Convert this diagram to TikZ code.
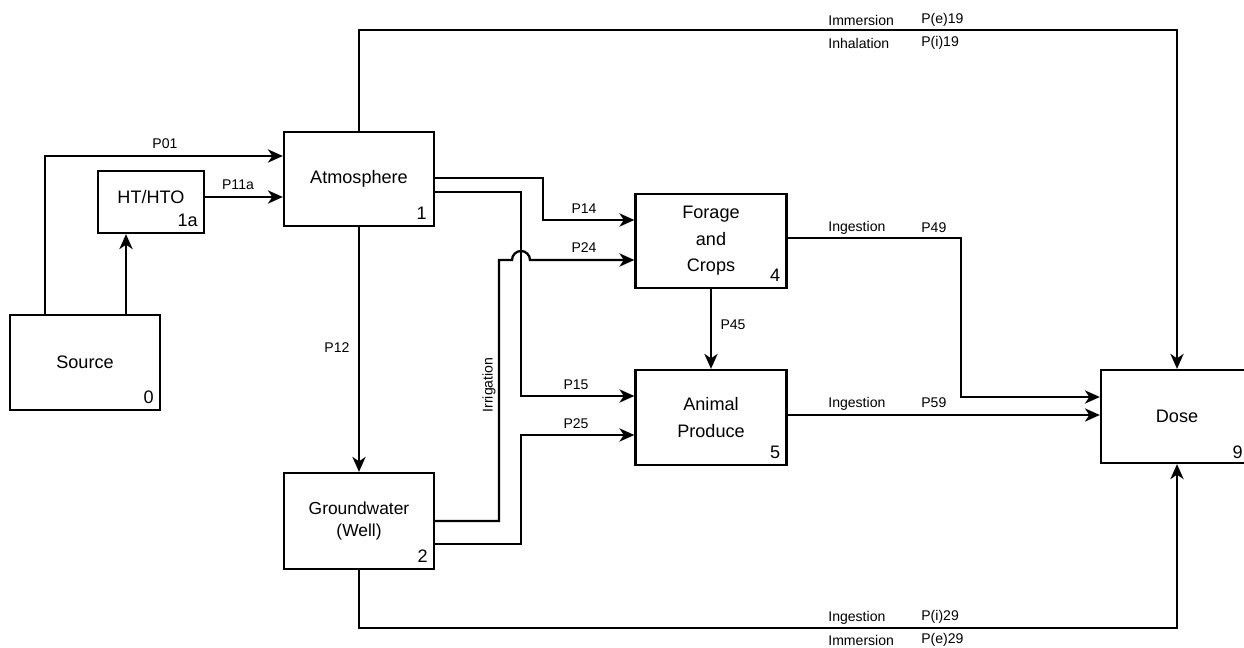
\documentclass[tikz,border=0pt]{standalone}
\usepackage{fontspec}
\setmainfont{Liberation Sans}
\usetikzlibrary{arrows.meta}

\tikzset{
    compartment/.style={draw, line width=1.3pt, align=center, inner sep=0pt,
        font=\fontsize{10.3}{15}\selectfont},
    boxnum/.style={anchor=south east, inner sep=0pt, font=\fontsize{10.3}{12}\selectfont},
    pathlabel/.style={anchor=west, inner sep=0pt, font=\fontsize{8}{9}\selectfont},
    flow/.style={line width=1.3pt, -{Stealth[length=8.5pt, width=7.5pt, inset=2.5pt]}},
}

\begin{document}
\begin{tikzpicture}[x=0.02cm, y=-0.02cm]
    \useasboundingbox (0,0) rectangle (1244,648);

    % compartments
    \node[compartment, minimum width=3cm, minimum height=1.9cm] (src) at (85,362.5) {Source};
    \node[compartment, minimum width=2.12cm, minimum height=1.24cm] (hto) at (151,202) {\raisebox{5.6pt}{HT/HTO}};
    \node[compartment, minimum width=3cm, minimum height=1.88cm] (atm) at (359,179) {Atmosphere};
    \node[compartment, minimum width=3cm, minimum height=1.92cm,
        font=\fontsize{9.9}{13}\selectfont] (gw) at (359,521) {Groundwater\\(Well)};
    \node[compartment, minimum width=3.02cm, minimum height=1.88cm] (fc) at (711,241) {Forage\\and\\Crops};
    \node[compartment, minimum width=3.02cm, minimum height=1.9cm] (ap) at (711,417.5) {Animal\\Produce};
    \node[compartment, minimum width=3.04cm, minimum height=1.86cm] (dose) at (1177,416.5) {Dose};

    % compartment numbers
    \node[boxnum] (src-n) at ([shift={(-7,-7)}]src.south east) {0};
    \node[boxnum] (hto-n) at ([shift={(-7,-7)}]hto.south east) {1a};
    \node[boxnum] (atm-n) at ([shift={(-8,-7)}]atm.south east) {1};
    \node[boxnum] (gw-n) at ([shift={(-7,-7)}]gw.south east) {2};
    \node[boxnum] (fc-n) at ([shift={(-7,-7)}]fc.south east) {4};
    \node[boxnum] (ap-n) at ([shift={(-7,-7)}]ap.south east) {5};
    \node[boxnum] (dose-n) at ([shift={(-11,-5)}]dose.south east) {9};

    % transfers
    \draw[flow] (src.north -| 45,0) |- (atm.west |- 0,156);
    \draw[flow] (src.north -| 126,0) -- (hto.south -| 126,0);
    \draw[flow] (hto.east |- 0,197) -- (atm.west |- 0,197);
    \draw[flow] (atm.north) |- (1177,30) -- (dose.north);
    \draw[flow] (atm.south) -- (gw.north);
    \draw[flow] (atm.east |- 0,178) -| (543,220) -- (fc.west |- 0,220);
    \draw[flow] (atm.east |- 0,192) -| (521,396) -- (ap.west |- 0,396);
    \draw[flow] (gw.east) -| (499,260) -- (512,260)
        arc[start angle=180, end angle=0, radius=0.18cm] -- (fc.west |- 0,260);
    \draw[flow] (gw.east |- 0,544) -| (521,435) -- (ap.west |- 0,435);
    \draw[flow] (fc.south) -- (ap.north);
    \draw[flow] (fc.east |- 0,238) -| (961,397) -- (dose.west |- 0,397);
    \draw[flow] (ap.east |- 0,415) -- (dose.west |- 0,415);
    \draw[flow] (gw.south) |- (1177,628) -- (dose.south);

    % labels
    \node[pathlabel, anchor=center] (p01) at (165,144) {P01};
    \node[pathlabel, anchor=center] (p11a) at (238,185) {P11a};
    \node[pathlabel, anchor=center] (p12) at (337,348) {P12};
    \node[pathlabel, anchor=center] (p14) at (584,209) {P14};
    \node[pathlabel, anchor=center] (p24) at (584,248) {P24};
    \node[pathlabel, anchor=center] (p15) at (576,385) {P15};
    \node[pathlabel, anchor=center] (p25) at (576,424) {P25};
    \node[pathlabel, anchor=center] (p45) at (733,325) {P45};
    \node[pathlabel, anchor=center, rotate=90] (irr) at (489,385) {Irrigation};
    \node[pathlabel] (imm19) at (828,20) {Immersion};
    \node[pathlabel] (pe19) at (921,20) {P(e)19};
    \node[pathlabel] (inh19) at (828,43) {Inhalation};
    \node[pathlabel] (pi19) at (921,43) {P(i)19};
    \node[pathlabel] (ing49) at (828,228) {Ingestion};
    \node[pathlabel] (p49) at (921,228) {P49};
    \node[pathlabel] (ing59) at (828,404) {Ingestion};
    \node[pathlabel] (p59) at (921,403) {P59};
    \node[pathlabel] (ing29) at (828,618) {Ingestion};
    \node[pathlabel] (pi29) at (921,617) {P(i)29};
    \node[pathlabel] (imm29) at (828,640) {Immersion};
    \node[pathlabel] (pe29) at (921,640) {P(e)29};
\end{tikzpicture}
\end{document}
